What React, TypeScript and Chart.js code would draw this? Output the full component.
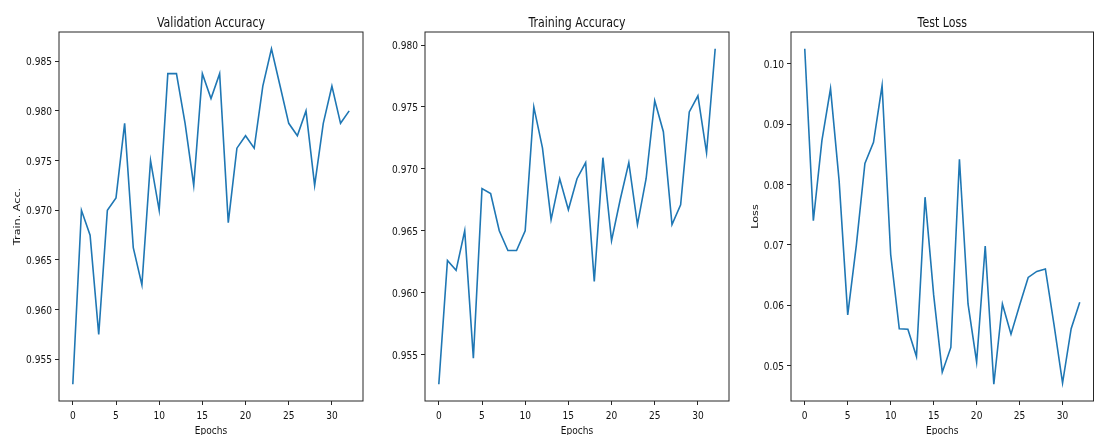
import React, { useEffect, useRef } from "react";
import { Chart, registerables } from "chart.js";

Chart.register(...registerables);

// Epoch index for every recorded value
const epochs = [
  0, 1, 2, 3, 4, 5, 6, 7, 8, 9, 10, 11, 12, 13, 14, 15, 16, 17, 18, 19, 20,
  21, 22, 23, 24, 25, 26, 27, 28, 29, 30, 31, 32,
];

const validationAccuracy = [
  0.9525, 0.97, 0.9675, 0.9575, 0.97, 0.97125, 0.97875, 0.96625, 0.9625,
  0.975, 0.97, 0.98375, 0.98375, 0.97875, 0.9725, 0.98375, 0.98125, 0.98375,
  0.96875, 0.97625, 0.9775, 0.97625, 0.9825, 0.98625, 0.9825, 0.97875, 0.9775,
  0.98, 0.9725, 0.97875, 0.9825, 0.97875, 0.98,
];

const trainingAccuracy = [
  0.9526, 0.9626, 0.9618, 0.965, 0.9547, 0.9684, 0.968, 0.965, 0.9634, 0.9634,
  0.965, 0.975, 0.9717, 0.9659, 0.9692, 0.9667, 0.9692, 0.9705, 0.9609,
  0.9709, 0.9642, 0.9675, 0.9705, 0.9655, 0.9692, 0.9755, 0.973, 0.9655,
  0.9671, 0.9746, 0.9759, 0.9713, 0.9797,
];

const testLoss = [
  0.1025, 0.074, 0.0873, 0.0959, 0.0806, 0.0584, 0.0699, 0.0835, 0.087,
  0.0964, 0.0684, 0.0561, 0.056, 0.0515, 0.0779, 0.0617, 0.0489, 0.053,
  0.0842, 0.0602, 0.0506, 0.0698, 0.0469, 0.0602, 0.0552, 0.06, 0.0646,
  0.0656, 0.066, 0.0568, 0.0471, 0.0561, 0.0605,
];

const epochTicks = [0, 5, 10, 15, 20, 25, 30];
const validationTicks = [0.955, 0.96, 0.965, 0.97, 0.975, 0.98, 0.985];
const trainingTicks = [0.955, 0.96, 0.965, 0.97, 0.975, 0.98];
const lossTicks = [0.05, 0.06, 0.07, 0.08, 0.09, 0.1];

const FONT = '"DejaVu Sans", sans-serif';
const TEXT_SQUEEZE = 0.81; // glyphs are drawn slightly condensed
const TICK_SIZE = 11.2;
const TITLE_SIZE = 13.6;
const LINE_COLOR = "#1f77b4";
const INK = "#262626";
const TEXT = "#111111";
const HEIGHT = 435;
const AREA_TOP = 32;
const AREA_BOTTOM = 401;

type Panel = {
  title: string;
  yLabel: string;
  values: number[];
  yTicks: number[];
  decimals: number;
  left: number; // canvas left on the page
  width: number; // canvas width
  areaLeft: number; // plot box left inside the canvas
  areaRight: number; // plot box right inside the canvas
  yLabelX: number; // baseline of the rotated y label inside the canvas
};

const panels: Panel[] = [
  {
    title: "Validation Accuracy",
    yLabel: "Train. Acc.",
    values: validationAccuracy,
    yTicks: validationTicks,
    decimals: 3,
    left: 0,
    width: 366,
    areaLeft: 59,
    areaRight: 363,
    yLabelX: 20,
  },
  {
    title: "Training Accuracy",
    yLabel: "",
    values: trainingAccuracy,
    yTicks: trainingTicks,
    decimals: 3,
    left: 366,
    width: 365,
    areaLeft: 59,
    areaRight: 363,
    yLabelX: 0,
  },
  {
    title: "Test Loss",
    yLabel: "Loss",
    values: testLoss,
    yTicks: lossTicks,
    decimals: 2,
    left: 731,
    width: 363,
    areaLeft: 60,
    areaRight: 362.5,
    yLabelX: 27,
  },
];

// Matplotlib-style 5% margins around the data
function paddedRange(vals: number[]): [number, number] {
  const lo = Math.min(...vals);
  const hi = Math.max(...vals);
  const pad = (hi - lo) * 0.05;
  return [lo - pad, hi + pad];
}

function label(
  ctx: CanvasRenderingContext2D,
  text: string,
  x: number,
  y: number,
  size: number,
  align: CanvasTextAlign,
  rotated = false
) {
  ctx.save();
  ctx.translate(x, y);
  if (rotated) {
    ctx.rotate(-Math.PI / 2);
    ctx.scale(1, TEXT_SQUEEZE);
  } else {
    ctx.scale(TEXT_SQUEEZE, 1);
  }
  ctx.font = `${size}px ${FONT}`;
  ctx.fillStyle = TEXT;
  ctx.textAlign = align;
  ctx.textBaseline = "alphabetic";
  ctx.fillText(text, 0, 0);
  ctx.restore();
}

const frameAndText = {
  id: "frameAndText",
  afterDraw(chart: any, _args: any, opts: any) {
    const { ctx, chartArea, scales } = chart;
    const { left, right, top, bottom } = chartArea;
    ctx.save();
    ctx.strokeStyle = INK;
    ctx.lineWidth = 1;
    ctx.strokeRect(left, top, right - left, bottom - top);
    ctx.restore();

    const cx = (left + right) / 2;
    const digitHalf = (0.729 * TICK_SIZE) / 2;

    // tick labels, placed through the chart's own scales
    for (const v of epochTicks) {
      label(ctx, String(v), scales.x.getPixelForValue(v), 418.5, TICK_SIZE, "center");
    }
    for (const v of opts.yTicks as number[]) {
      label(
        ctx,
        v.toFixed(opts.decimals),
        left - 7,
        scales.y.getPixelForValue(v) + digitHalf,
        TICK_SIZE,
        "right"
      );
    }

    label(ctx, opts.title, cx, 27, TITLE_SIZE, "center");
    label(ctx, "Epochs", cx, 433.5, TICK_SIZE, "center");
    if (opts.yLabel) {
      label(ctx, opts.yLabel, opts.yLabelX, (top + bottom) / 2, TICK_SIZE, "center", true);
    }
  },
};

function PanelChart({ panel }: { panel: Panel }) {
  const ref = useRef<HTMLCanvasElement | null>(null);

  useEffect(() => {
    if (!ref.current) return;
    const [yMin, yMax] = paddedRange(panel.values);
    const [xMin, xMax] = paddedRange(epochs);
    const chart = new Chart(ref.current, {
      type: "line",
      data: {
        datasets: [
          {
            data: epochs.map((e, i) => ({ x: e, y: panel.values[i] })),
            borderColor: LINE_COLOR,
            borderWidth: 1.6,
            pointRadius: 0,
            tension: 0,
            fill: false,
          },
        ],
      },
      plugins: [frameAndText],
      options: {
        animation: false,
        responsive: false,
        maintainAspectRatio: false,
        events: [],
        layout: {
          padding: {
            top: AREA_TOP,
            bottom: 0,
            left: 0,
            right: panel.width - panel.areaRight,
          },
        },
        plugins: {
          legend: { display: false },
          tooltip: { enabled: false },
          title: { display: false },
          frameAndText: {
            title: panel.title,
            yLabel: panel.yLabel,
            yLabelX: panel.yLabelX,
            yTicks: panel.yTicks,
            decimals: panel.decimals,
          },
        } as any,
        scales: {
          x: {
            type: "linear",
            min: xMin,
            max: xMax,
            afterBuildTicks: (s: any) => {
              s.ticks = epochTicks.map((v) => ({ value: v }));
            },
            afterFit: (s: any) => {
              s.height = HEIGHT - AREA_BOTTOM;
            },
            grid: {
              drawOnChartArea: false,
              drawTicks: true,
              tickLength: 4,
              color: INK,
              lineWidth: 1,
            },
            border: { display: false },
            ticks: { display: false, autoSkip: false },
          },
          y: {
            type: "linear",
            min: yMin,
            max: yMax,
            afterBuildTicks: (s: any) => {
              s.ticks = panel.yTicks.map((v) => ({ value: v }));
            },
            afterFit: (s: any) => {
              s.width = panel.areaLeft;
            },
            grid: {
              drawOnChartArea: false,
              drawTicks: true,
              tickLength: 4,
              color: INK,
              lineWidth: 1,
            },
            border: { display: false },
            ticks: { display: false, autoSkip: false },
          },
        },
      },
    });
    return () => chart.destroy();
  }, [panel]);

  return (
    <canvas
      ref={ref}
      width={panel.width}
      height={HEIGHT}
      style={{
        position: "absolute",
        left: panel.left,
        top: 0,
        width: panel.width,
        height: HEIGHT,
      }}
    />
  );
}

export default function App() {
  return (
    <div
      style={{
        position: "absolute",
        left: 0,
        top: 0,
        width: 1094,
        height: HEIGHT,
        background: "#ffffff",
        overflow: "hidden",
      }}
    >
      {panels.map((p) => (
        <PanelChart key={p.title} panel={p} />
      ))}
    </div>
  );
}
